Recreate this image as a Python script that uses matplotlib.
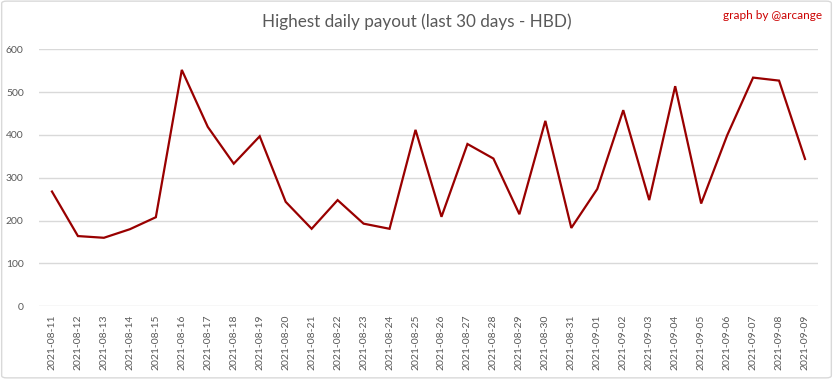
import numpy as np
import matplotlib
matplotlib.use("Agg")
import matplotlib.pyplot as plt
from matplotlib.patches import FancyBboxPatch

# daily highest payout, HBD
dates = ["2021-08-11", "2021-08-12", "2021-08-13", "2021-08-14", "2021-08-15",
         "2021-08-16", "2021-08-17", "2021-08-18", "2021-08-19", "2021-08-20",
         "2021-08-21", "2021-08-22", "2021-08-23", "2021-08-24", "2021-08-25",
         "2021-08-26", "2021-08-27", "2021-08-28", "2021-08-29", "2021-08-30",
         "2021-08-31", "2021-09-01", "2021-09-02", "2021-09-03", "2021-09-04",
         "2021-09-05", "2021-09-06", "2021-09-07", "2021-09-08", "2021-09-09"]
payout = [268, 164, 160, 180, 208, 552, 419, 333, 397, 244,
          181, 248, 193, 181, 412, 209, 379, 345, 215, 433,
          183, 274, 458, 248, 514, 240, 399, 534, 527, 344]
yticks = [0, 100, 200, 300, 400, 500, 600]

plt.rcParams['font.family'] = ['Lato', 'DejaVu Sans']
grey = '#595959'

fig = plt.figure(figsize=(8.33, 3.79), dpi=100)
fig.patches.append(FancyBboxPatch((0.002, 0.003), 0.996, 0.994,
                                  boxstyle="round,pad=0,rounding_size=0.006",
                                  transform=fig.transFigure, fill=False,
                                  edgecolor='#d9d9d9', linewidth=1))
ax = fig.add_axes([0.0468, 0.1918, 0.9352, 0.678])

x = np.arange(len(dates))
ax.plot(x, payout, color='#990000', linewidth=1.6, solid_joinstyle='miter')

ax.set_xlim(-0.5, len(dates) - 0.5)
ax.set_ylim(0, 600)
ax.set_yticks(yticks)
ax.set_xticks(x)
ax.set_xticklabels(dates, rotation=90)
ax.grid(axis='y', color='#d9d9d9', linewidth=1)
ax.set_axisbelow(True)
for s in ax.spines.values():
    s.set_visible(False)
ax.tick_params(axis='both', length=0, colors=grey, labelsize=7.5)
ax.tick_params(axis='x', pad=6)
ax.tick_params(axis='y', pad=11)

fig.text(0.5, 0.942, "Highest daily payout (last 30 days - HBD)", ha='center',
         va='center', color=grey, fontsize=12.3)
fig.text(0.987, 0.958, "graph by @arcange", ha='right', va='center',
         color='#cc0000', fontsize=8.5)

fig.savefig("out.png", dpi=100)
